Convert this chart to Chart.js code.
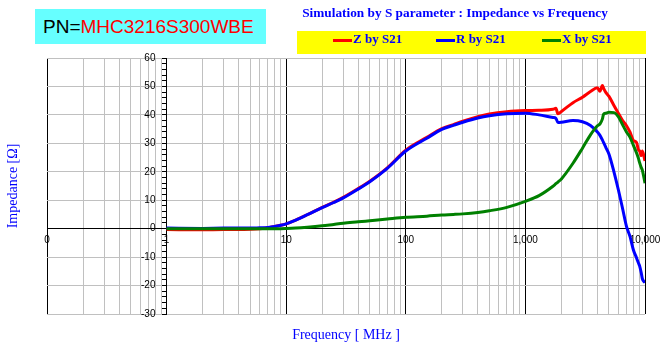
<!DOCTYPE html>
<html>
<head>
<meta charset="utf-8">
<script src="https://cdn.jsdelivr.net/npm/chart.js@4.4.1/dist/chart.umd.min.js"></script>
<style>
  html, body { margin: 0; padding: 0; background: #fff; }
  #wrap { position: relative; width: 663px; height: 348px; overflow: hidden; }
  #chart { position: absolute; left: 0; top: 0; }
  #pn { position: absolute; left: 35px; top: 9px; width: 231px; height: 35px; background: #66ffff;
        font: 19px "Liberation Sans", Arial, sans-serif; line-height: 35px; padding-left: 8px; box-sizing: border-box; white-space: nowrap; }
  #pn .red { color: #ff0000; }
  #title { position: absolute; left: 297px; width: 316px; top: 5px; text-align: center;
           font: bold 13.3px "Liberation Serif", serif; color: #0000ff; white-space: nowrap; }
  #legend { position: absolute; left: 297px; top: 31px; width: 349px; height: 23px; background: #ffff00; }
  .item { position: absolute; top: 0; height: 23px; line-height: 23px; font: bold 13px "Liberation Serif", serif;
          color: #0000ff; white-space: nowrap; }
  .swatch { display: inline-block; width: 19px; height: 3px; vertical-align: middle; margin-right: 1px; }
</style>
</head>
<body>
<div id="wrap">
  <canvas id="chart" width="663" height="348"></canvas>
  <div id="pn">PN=<span class="red">MHC3216S300WBE</span></div>
  <div id="title">Simulation by S parameter : Impedance vs Frequency</div>
  <div id="legend"></div>
</div>
<script>
// frequency in MHz, values in ohm
const freqMHz = [1, 2, 3, 4, 5, 6, 7, 8, 9, 10,
  12, 15, 20, 25, 30, 40, 50, 70,
  100, 150, 200, 250, 300, 400, 500, 700,
  1000, 1300, 1700, 1800, 1870, 2000, 2500, 3000, 3500, 4000,
  4200, 4400, 4500, 4700, 5000, 5500, 6000, 6500, 7000, 7500,
  8000, 8500, 8800, 9000, 9300, 9500, 10000];

const zByS21 = [-0.3, -0.4, -0.3, -0.3, -0.2, 0.0, 0.3, 0.8, 1.2, 1.7,
  3.0, 4.9, 7.5, 9.3, 11.0, 14.1, 16.7, 21.4,
  27.6, 32.1, 35.2, 36.6, 37.8, 39.4, 40.3, 41.1,
  41.5, 41.6, 42.0, 42.3, 40.4, 41.2, 44.3, 46.2, 48.2, 49.5,
  48.3, 50.3, 49.4, 47.9, 46.5, 43.3, 40.5, 38.0, 36.2, 33.9,
  31.0, 30.3, 27.8, 27.4, 25.7, 27.3, 23.8];

const rByS21 = [0.2, 0.1, 0.2, 0.2, 0.2, 0.3, 0.4, 0.8, 1.2, 1.7,
  3.0, 4.9, 7.4, 9.2, 10.8, 13.9, 16.5, 21.2,
  27.3, 31.8, 34.9, 36.3, 37.4, 38.9, 39.7, 40.4,
  40.6, 40.0, 39.1, 38.8, 37.3, 37.4, 38.0, 37.6, 36.3, 34.0,
  32.8, 31.2, 30.3, 28.6, 26.2, 20.0, 13.5, 7.0, 0.8, -2.8,
  -7.5, -10.3, -12.0, -13.0, -15.5, -17.6, -19.0];

const xByS21 = [0.0, 0.0, 0.0, 0.0, 0.0, 0.0, 0.0, 0.0, 0.0, 0.05,
  0.2, 0.5, 1.0, 1.5, 1.9, 2.4, 2.8, 3.4,
  4.0, 4.4, 4.8, 5.0, 5.2, 5.7, 6.3, 7.5,
  9.6, 11.6, 14.9, 15.8, 16.4, 17.5, 23.0, 28.3, 33.0, 36.2,
  36.8, 38.5, 40.2, 40.6, 40.9, 40.8, 39.3, 36.5, 34.0, 32.1,
  29.3, 26.6, 24.8, 23.3, 21.5, 20.6, 16.0];

const seriesNames = ['Z by S21', 'R by S21', 'X by S21'];
const seriesColors = ['#ff0000', '#0000ff', '#008000'];

const xDecades = [0.1, 1, 10, 100, 1000, 10000];
const xDecadeLabels = ['0', '1', '10', '100', '1,000', '10,000'];
const yLabelValues = [-30, -20, -10, 0, 10, 20, 30, 40, 50, 60];

// minor grid positions 2..9 in each decade
const xGridValues = [];
for (let d = 0; d < xDecades.length; d++) {
  xGridValues.push(xDecades[d]);
  if (d < xDecades.length - 1) {
    for (let m = 2; m <= 9; m++) xGridValues.push(Number((m * xDecades[d]).toPrecision(3)));
  }
}
const yTickValues = [];
for (let v = -30; v <= 60; v += 2) yTickValues.push(v);

// legend in the yellow box
const legendLeft = [36, 139, 245];
const legendBox = document.getElementById('legend');
seriesNames.forEach((name, i) => {
  const item = document.createElement('div');
  item.className = 'item';
  item.style.left = legendLeft[i] + 'px';
  item.innerHTML = '<span class="swatch" style="background:' + seriesColors[i] + '"></span>' + name;
  legendBox.appendChild(item);
});

function points(vals) {
  return freqMHz.map((f, i) => ({ x: f, y: vals[i] }));
}

const tickFont = { family: 'Liberation Sans', size: 10 };
const titleFont = { family: 'Liberation Serif', size: 14 };
const xGridColor = c => (c.tick && xDecades.includes(c.tick.value)) ? '#000000' : '#c0c0c0';

const ctx = document.getElementById('chart').getContext('2d');
new Chart(ctx, {
  type: 'line',
  data: {
    datasets: [zByS21, rByS21, xByS21].map((vals, i) => ({
      label: seriesNames[i],
      data: points(vals),
      borderColor: seriesColors[i],
      backgroundColor: seriesColors[i],
      borderWidth: 3,
      pointRadius: 0,
      cubicInterpolationMode: 'monotone',
      xAxisID: 'x',
      yAxisID: 'y',
      order: 3 - i
    }))
  },
  options: {
    responsive: false,
    animation: false,
    devicePixelRatio: 1,
    layout: { padding: { left: 0, right: 18, top: 58, bottom: 0 } },
    plugins: {
      legend: { display: false },
      tooltip: { enabled: false },
      title: { display: false }
    },
    scales: {
      x: {
        type: 'logarithmic',
        min: 0.1,
        max: 10000,
        position: { y: 0 },
        afterFit: s => { s.height = 0; },
        afterBuildTicks: s => { s.ticks = xGridValues.map(v => ({ value: v })); },
        ticks: {
          autoSkip: false,
          maxRotation: 0,
          minRotation: 0,
          padding: 0,
          color: '#000',
          font: tickFont,
          callback: v => {
            const k = xDecades.indexOf(v);
            return k >= 0 ? xDecadeLabels[k] : '';
          }
        },
        grid: {
          drawTicks: true,
          tickLength: 6,
          lineWidth: 1,
          color: xGridColor,
          tickColor: xGridColor
        },
        border: { color: '#000', width: 1 }
      },
      y: {
        type: 'linear',
        min: -30,
        max: 60,
        position: { x: 1 },
        afterFit: s => { s.width = 0; },
        afterBuildTicks: s => { s.ticks = yTickValues.map(v => ({ value: v })); },
        ticks: {
          autoSkip: false,
          color: '#000',
          font: tickFont,
          callback: v => yLabelValues.includes(v) ? v + '    ' : ''
        },
        grid: {
          lineWidth: 1,
          tickLength: 4,
          tickColor: '#000',
          color: c => {
            if (!c.tick) return '#c0c0c0';
            if (c.tick.value === 0) return '#000000';
            return yLabelValues.includes(c.tick.value) ? '#c0c0c0' : 'rgba(0,0,0,0)';
          }
        },
        border: { color: '#000', width: 1 }
      },
      xTitle: {
        type: 'linear',
        position: 'bottom',
        afterFit: s => { s.height = 34; },
        grid: { display: false },
        border: { display: false },
        ticks: { display: false },
        title: { display: true, text: 'Frequency [ MHz ]', color: '#0000ff', font: titleFont, padding: { top: 0, bottom: 4 } }
      },
      yTitle: {
        type: 'linear',
        position: 'left',
        afterFit: s => { s.width = 47; },
        grid: { display: false },
        border: { display: false },
        ticks: { display: false },
        title: { display: true, text: 'Impedance [Ω]', color: '#0000ff', font: titleFont, padding: { top: 5, bottom: 0 } }
      }
    }
  }
});
</script>
</body>
</html>
